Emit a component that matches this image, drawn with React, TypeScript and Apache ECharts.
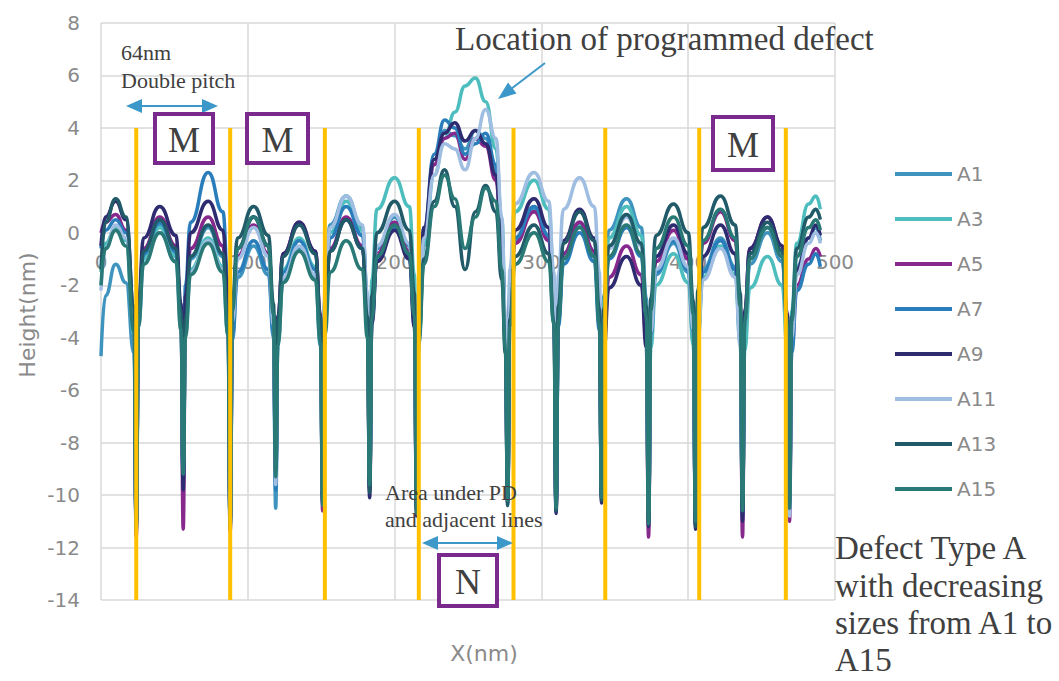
import React, { useEffect, useRef } from "react";
import * as echarts from "echarts";

const SERIES_NAMES = ["A1", "A3", "A5", "A7", "A9", "A11", "A13", "A15"];
const SERIES_COLORS = ["#3F94BF", "#4DBDBD", "#86288C", "#2A7DBB", "#2E2B70", "#9FBEE2", "#215A68", "#297A76"];

const X_TICKS = [0, 100, 200, 300, 400, 500];
const Y_TICKS = [-14, -12, -10, -8, -6, -4, -2, 0, 2, 4, 6, 8];

// shared x positions (nm)
const X_NM = [
  0, 3, 10, 17, 22.5,
  24, 25.5, 29, 40, 51, 54.5,
  56, 57.5, 61, 73, 83, 86.5,
  88, 89.5, 93, 104, 114, 117.5,
  119, 120.5, 124, 135, 146, 149.5,
  151, 152.5, 156, 167, 178, 181.5,
  183, 184.5, 188, 200, 210, 213.5,
  215, 216.5, 220, 227, 234, 241, 248, 255, 262, 269, 273, 275.5,
  277, 278.5, 282, 295, 305, 308.5,
  310, 311.5, 315, 326, 336, 339.5,
  341, 342.5, 346, 358, 368, 371.5,
  373, 374.5, 378, 390, 400, 403.5,
  405, 406.5, 410, 422, 432, 435.5,
  437, 438.5, 442, 454, 464, 467.5,
  469, 470.5, 474, 482, 487, 490,
];

const A1 = [
  -4.7, -2.4, -1.2, -1.9, -4.6,
  -11.2, -3.4, -0.9, 0.3, -0.8, -3.3,
  -9.6, -3.5, -1.0, 0.2, -0.9, -3.4,
  -11.0, -4.1, -1.7, -0.5, -1.6, -4.0,
  -10.5, -4.2, -1.8, -0.6, -1.7, -4.3,
  -10.0, -2.5, 0.3, 1.4, 0.2, -2.4,
  -9.7, -3.1, -0.6, 0.6, -0.5, -3.0,
  -10.4, -3.8, -0.1, 2.6, 3.9, 3.7, 3.2, 3.9, 3.6, 2.4, 0.0, -3.8,
  -10.0, -2.8, -0.3, 0.9, -0.2, -2.9,
  -10.3, -3.2, -0.8, 0.4, -0.7, -3.3,
  -9.8, -2.4, 0.1, 1.3, 0.2, -2.5,
  -10.9, -4.0, -1.6, -0.4, -1.5, -4.1,
  -10.8, -3.9, -1.4, -0.2, -1.3, -3.8,
  -10.5, -3.7, -1.2, 0.0, -1.1, -3.6,
  -10.2, -3.8, -1.3, -0.2, 0.2, -0.3,
];

const A3 = [
  -1.5, -0.4, 0.2, -0.3, -3.9,
  -10.8, -3.5, -1.0, 0.2, -0.9, -3.4,
  -9.2, -3.8, -1.4, -0.2, -1.3, -3.9,
  -10.6, -3.1, -0.6, 0.6, -0.5, -3.0,
  -9.4, -3.8, -1.4, -0.2, -1.3, -3.9,
  -9.8, -2.6, 0.0, 1.2, 0.1, -2.5,
  -9.5, -1.8, 0.9, 2.1, 1.0, -1.6,
  -10.0, -4.0, -0.5, 2.2, 3.6, 4.6, 5.6, 5.9, 5.0, 3.2, 0.5, -3.5,
  -9.8, -1.8, 0.8, 2.0, 0.9, -1.7,
  -10.1, -3.3, -0.9, 0.3, -0.8, -3.2,
  -9.9, -2.6, -0.2, 1.0, -0.1, -2.7,
  -10.6, -4.4, -2.0, -0.8, -1.9, -4.3,
  -11.2, -4.1, -1.7, -0.5, -1.6, -4.2,
  -10.2, -4.5, -2.1, -0.9, -2.0, -4.4,
  -10.0, -3.0, -0.4, 1.1, 1.4, 0.9,
];

const A5 = [
  0.0, 0.4, 0.7, 0.1, -3.2,
  -11.6, -3.0, -0.6, 0.6, -0.5, -3.1,
  -11.3, -3.0, -0.6, 0.6, -0.5, -2.9,
  -11.4, -3.3, -0.9, 0.3, -0.8, -3.4,
  -9.2, -3.2, -0.8, 0.4, -0.7, -3.1,
  -10.6, -3.0, -0.6, 0.6, -0.5, -3.1,
  -9.8, -3.2, -0.8, 0.4, -0.7, -3.3,
  -10.6, -3.6, 0.0, 2.6, 3.6, 3.8, 2.8, 3.6, 3.3, 2.0, -0.4, -4.0,
  -10.1, -2.8, -0.4, 0.8, -0.3, -2.9,
  -10.5, -3.2, -0.8, 0.4, -0.7, -3.1,
  -10.1, -4.1, -1.7, -0.5, -1.6, -4.0,
  -11.6, -3.5, -1.1, 0.1, -1.0, -3.6,
  -11.1, -2.8, -0.4, 0.8, -0.3, -2.9,
  -11.6, -3.0, -0.6, 0.6, -0.5, -3.1,
  -11.0, -4.4, -2.0, -1.0, -0.6, -0.9,
];

const A7 = [
  -0.6, 0.1, 0.5, 0.0, -3.4,
  -11.0, -3.2, -0.8, 0.4, -0.7, -3.3,
  -9.4, -2.0, 0.4, 2.3, 0.8, -1.8,
  -11.2, -3.9, -1.5, -0.3, -1.4, -3.8,
  -9.8, -3.9, -1.5, -0.3, -1.4, -4.0,
  -10.2, -2.6, -0.2, 1.0, -0.1, -2.7,
  -9.6, -3.4, -1.0, 0.2, -0.9, -3.5,
  -10.5, -3.5, 0.2, 3.0, 4.3, 4.0, 3.0, 3.4, 3.8, 2.6, 0.0, -3.8,
  -10.2, -2.6, -0.2, 1.0, -0.1, -2.7,
  -10.4, -3.6, -1.2, 0.0, -1.1, -3.7,
  -10.0, -3.4, -1.0, 0.2, -0.9, -3.3,
  -11.0, -3.9, -1.5, -0.3, -1.4, -3.8,
  -10.9, -3.9, -1.5, -0.3, -1.4, -4.0,
  -10.8, -3.4, -1.0, 0.2, -0.9, -3.5,
  -10.4, -4.6, -2.2, -1.2, -0.8, -1.3,
];

const A9 = [
  -0.5, 0.6, 1.2, 0.5, -2.8,
  -11.3, -2.6, -0.2, 1.0, -0.1, -2.7,
  -9.8, -2.4, 0.0, 1.2, 0.1, -2.3,
  -11.1, -3.0, -0.6, 0.6, -0.5, -3.1,
  -9.5, -3.2, -0.8, 0.4, -0.7, -3.3,
  -10.3, -3.1, -0.7, 0.5, -0.6, -3.0,
  -10.1, -3.5, -1.1, 0.1, -1.0, -3.6,
  -10.8, -3.4, 0.2, 2.8, 3.8, 4.2, 3.5, 3.9, 3.4, 2.2, -0.2, -4.0,
  -10.3, -2.3, 0.1, 1.3, 0.2, -2.4,
  -10.7, -2.7, -0.3, 0.9, -0.2, -2.6,
  -10.3, -4.5, -2.1, -0.9, -2.0, -4.4,
  -11.2, -3.3, -0.9, 0.3, -0.8, -3.4,
  -11.3, -3.3, -0.9, 0.3, -0.8, -3.2,
  -11.0, -3.0, -0.6, 0.6, -0.5, -3.1,
  -10.6, -3.8, -1.4, -0.2, 0.3, -0.1,
];

const A11 = [
  -2.2, -0.6, 0.3, -0.2, -3.6,
  -10.9, -3.6, -1.2, 0.0, -1.1, -3.7,
  -8.8, -3.9, -1.5, -0.3, -1.4, -3.8,
  -10.8, -3.4, -1.0, 0.2, -0.9, -3.5,
  -9.6, -4.1, -1.7, -0.5, -1.6, -4.0,
  -9.9, -2.2, 0.2, 1.4, 0.3, -2.3,
  -9.4, -2.9, -0.5, 0.7, -0.4, -3.0,
  -10.2, -3.8, -0.2, 2.2, 3.4, 3.2, 2.4, 3.6, 4.7, 3.6, 0.6, -3.2,
  -9.9, -1.4, 1.1, 2.3, 1.2, -1.5,
  -10.0, -1.6, 0.9, 2.1, 1.0, -1.5,
  -9.7, -3.0, -0.6, 0.6, -0.5, -3.1,
  -10.7, -3.8, -1.4, -0.2, -1.3, -3.7,
  -10.6, -4.2, -1.8, -0.6, -1.7, -4.3,
  -10.1, -3.4, -1.0, 0.2, -0.9, -3.5,
  -10.8, -4.0, -1.6, -0.4, 0.0, -0.4,
];

const A13 = [
  -1.4, 0.4, 1.3, 0.6, -2.8,
  -11.1, -3.1, -0.7, 0.5, -0.6, -3.0,
  -9.0, -3.3, -0.9, 0.3, -0.8, -3.4,
  -11.0, -2.6, -0.2, 1.0, -0.1, -2.7,
  -9.1, -3.3, -0.9, 0.3, -0.8, -3.2,
  -10.0, -3.1, -0.7, 0.5, -0.6, -3.2,
  -9.9, -2.4, 0.0, 1.2, 0.1, -2.3,
  -10.6, -4.0, -1.0, 1.2, 2.4, 1.0, -1.4, 0.8, 1.8, 0.8, -1.8, -4.6,
  -10.4, -3.3, -0.9, 0.3, -0.8, -3.4,
  -10.6, -2.8, -0.4, 0.8, -0.3, -2.9,
  -10.2, -2.9, -0.5, 0.7, -0.4, -2.8,
  -11.0, -2.5, -0.1, 1.1, 0.0, -2.6,
  -11.2, -2.2, 0.2, 1.4, 0.3, -2.3,
  -10.4, -3.2, -0.8, 0.4, -0.7, -3.3,
  -10.3, -3.2, -0.6, 0.6, 0.9, 0.5,
];

const A15 = [
  -2.0, -0.6, 0.1, -0.5, -3.8,
  -11.4, -3.6, -1.2, 0.0, -1.1, -3.7,
  -9.2, -4.0, -1.6, -0.4, -1.5, -3.9,
  -11.3, -3.0, -0.6, 0.6, -0.5, -3.1,
  -9.3, -4.3, -1.9, -0.7, -1.8, -4.2,
  -10.4, -3.9, -1.5, -0.3, -1.4, -4.0,
  -9.6, -3.3, -0.9, 0.3, -0.8, -3.2,
  -10.7, -4.2, -1.2, 1.0, 2.2, 1.3, -0.6, 0.6, 1.7, 1.2, -1.4, -4.4,
  -10.2, -3.6, -1.2, 0.0, -1.1, -3.5,
  -10.5, -3.4, -1.0, 0.2, -0.9, -3.5,
  -10.1, -3.3, -0.9, 0.3, -0.8, -3.2,
  -11.1, -3.0, -0.6, 0.6, -0.5, -3.1,
  -11.0, -2.7, -0.3, 0.9, -0.2, -2.8,
  -10.6, -3.4, -1.0, 0.2, -0.9, -3.5,
  -10.5, -3.4, -0.9, 0.2, 0.5, 0.1,
];

const SERIES_VALUES = [A1, A3, A5, A7, A9, A11, A13, A15];

// yellow marker lines (line positions in nm) spanning heights
const YELLOW_X = [24, 88, 152.5, 216.5, 281, 343.5, 407.5, 466.5];
const YELLOW_TOP = 4;
const YELLOW_BOTTOM = -14;

const SANS = "'DejaVu Sans', 'Open Sans', sans-serif";
const SERIF = "'Liberation Serif', 'Times New Roman', serif";
const GRAY = "#8a8a8a";
const DARK = "#404040";
const BLUE = "#3C98C8";
const PURPLE = "#7A2A8C";

// plot geometry (pixels)
const GRID_LEFT = 101;
const GRID_TOP = 23;
const GRID_W = 734;
const GRID_H = 577;

function arrowHead(tipX: number, tipY: number, fromX: number, fromY: number, len: number, half: number) {
  const dx = tipX - fromX;
  const dy = tipY - fromY;
  const d = Math.sqrt(dx * dx + dy * dy);
  const ux = dx / d;
  const uy = dy / d;
  const bx = tipX - ux * len;
  const by = tipY - uy * len;
  return {
    type: "polygon",
    z: 100,
    shape: { points: [[tipX, tipY], [bx - uy * half, by + ux * half], [bx + uy * half, by - ux * half]] },
    style: { fill: BLUE },
  };
}

function doubleArrow(x1: number, x2: number, y: number) {
  return [
    { type: "line", z: 100, shape: { x1: x1 + 12, y1: y, x2: x2 - 12, y2: y }, style: { stroke: BLUE, lineWidth: 2 } },
    arrowHead(x1, y, x1 + 20, y, 16, 7),
    arrowHead(x2, y, x2 - 20, y, 16, 7),
  ];
}

function box(x: number, y: number, w: number, h: number, label: string) {
  return [
    { type: "rect", z: 100, shape: { x, y, width: w, height: h }, style: { fill: "#ffffff", stroke: PURPLE, lineWidth: 4 } },
    {
      type: "text",
      z: 101,
      x: x + w / 2,
      y: y + h / 2 + 1,
      style: { text: label, fontFamily: SERIF, fontSize: 36, fill: DARK, align: "center", verticalAlign: "middle" },
    },
  ];
}

function serifText(x: number, y: number, text: string, size: number) {
  return {
    type: "text",
    z: 101,
    x,
    y,
    style: { text, fontFamily: SERIF, fontSize: size, fill: DARK, align: "left", verticalAlign: "middle" },
  };
}

export default function App() {
  const ref = useRef<HTMLDivElement>(null);

  useEffect(() => {
    const chart = echarts.init(ref.current as HTMLDivElement, undefined, { renderer: "svg" });

    const yMin = Y_TICKS[0];
    const yMax = Y_TICKS[Y_TICKS.length - 1];
    // distance from bottom of grid up to the y = 0 line, so the x axis sits on zero
    const zeroOffset = -(GRID_H * (0 - yMin)) / (yMax - yMin);

    const lineSeries = SERIES_NAMES.map((name, i) => ({
      name,
      type: "line",
      data: X_NM.map((x, j) => [x, SERIES_VALUES[i][j]]),
      showSymbol: false,
      symbol: "none",
      smooth: 0.5,
      smoothMonotone: "x",
      color: SERIES_COLORS[i],
      lineStyle: { width: 3.5, color: SERIES_COLORS[i] },
      z: 2 + i * 0.01,
    }));

    const yellowSeries = {
      name: "markers",
      type: "custom",
      z: 5,
      data: YELLOW_X.map((x) => [x, YELLOW_TOP, YELLOW_BOTTOM]),
      encode: { x: 0, y: [1, 2] },
      renderItem: (_params: any, api: any) => {
        const top = api.coord([api.value(0), api.value(1)]);
        const bot = api.coord([api.value(0), api.value(2)]);
        return {
          type: "line",
          shape: { x1: top[0], y1: top[1], x2: bot[0], y2: bot[1] },
          style: { stroke: "#FFC000", lineWidth: 4 },
        };
      },
    };

    const graphics: any[] = [
      ...doubleArrow(126, 218, 106),
      ...doubleArrow(422, 513, 543),
      { type: "line", z: 100, shape: { x1: 545, y1: 63, x2: 511, y2: 89 }, style: { stroke: BLUE, lineWidth: 2 } },
      arrowHead(498, 99, 545, 63, 18, 7),
      ...box(155, 114, 58, 49, "M"),
      ...box(247, 114, 61, 49, "M"),
      ...box(713, 117, 60, 53, "M"),
      ...box(439, 555, 58, 51, "N"),
      serifText(121, 52.5, "64nm", 22),
      serifText(121, 80, "Double pitch", 22),
      serifText(455, 39, "Location of programmed defect", 33),
      serifText(385, 492, "Area under PD", 22),
      serifText(385, 519, "and adjacent lines", 22),
      serifText(835, 548, "Defect Type A", 33),
      serifText(835, 585.5, "with decreasing", 33),
      serifText(835, 623, "sizes from A1 to", 33),
      serifText(835, 660, "A15", 33),
      {
        type: "text",
        z: 101,
        x: 484,
        y: 653,
        style: { text: "X(nm)", fontFamily: SANS, fontSize: 22, fill: GRAY, align: "center", verticalAlign: "middle" },
      },
      {
        type: "text",
        z: 101,
        x: 27,
        y: 315,
        rotation: Math.PI / 2,
        style: { text: "Height(nm)", fontFamily: SANS, fontSize: 22, fill: GRAY, align: "center", verticalAlign: "middle" },
      },
    ];

    chart.setOption({
      animation: false,
      backgroundColor: "#ffffff",
      grid: { left: GRID_LEFT, top: GRID_TOP, width: GRID_W, height: GRID_H, containLabel: false, outerBoundsMode: "none" },
      xAxis: {
        type: "value",
        min: X_TICKS[0],
        max: X_TICKS[X_TICKS.length - 1],
        interval: 100,
        position: "bottom",
        offset: zeroOffset,
        axisLine: { show: false, onZero: false },
        axisTick: { show: false },
        axisLabel: { color: GRAY, fontFamily: SANS, fontSize: 20, margin: 19 },
        splitLine: { show: true, lineStyle: { color: "#d9d9d9", width: 1.5 } },
      },
      yAxis: {
        type: "value",
        min: yMin,
        max: yMax,
        interval: 2,
        axisLine: { show: false },
        axisTick: { show: false },
        axisLabel: { color: GRAY, fontFamily: SANS, fontSize: 20, margin: 21 },
        splitLine: { show: true, lineStyle: { color: "#d9d9d9", width: 1.5 } },
      },
      legend: {
        data: SERIES_NAMES,
        orient: "vertical",
        left: 895,
        top: 164,
        padding: 0,
        itemWidth: 57,
        itemHeight: 4,
        itemGap: 25,
        icon: "rect",
        textStyle: { color: GRAY, fontFamily: SANS, fontSize: 20, lineHeight: 20 },
      },
      series: [...lineSeries, yellowSeries],
      graphic: graphics,
    });

    return () => chart.dispose();
  }, []);

  return (
    <div
      ref={ref}
      style={{ position: "fixed", left: 0, top: 0, width: 1059, height: 681, background: "#ffffff" }}
    />
  );
}
